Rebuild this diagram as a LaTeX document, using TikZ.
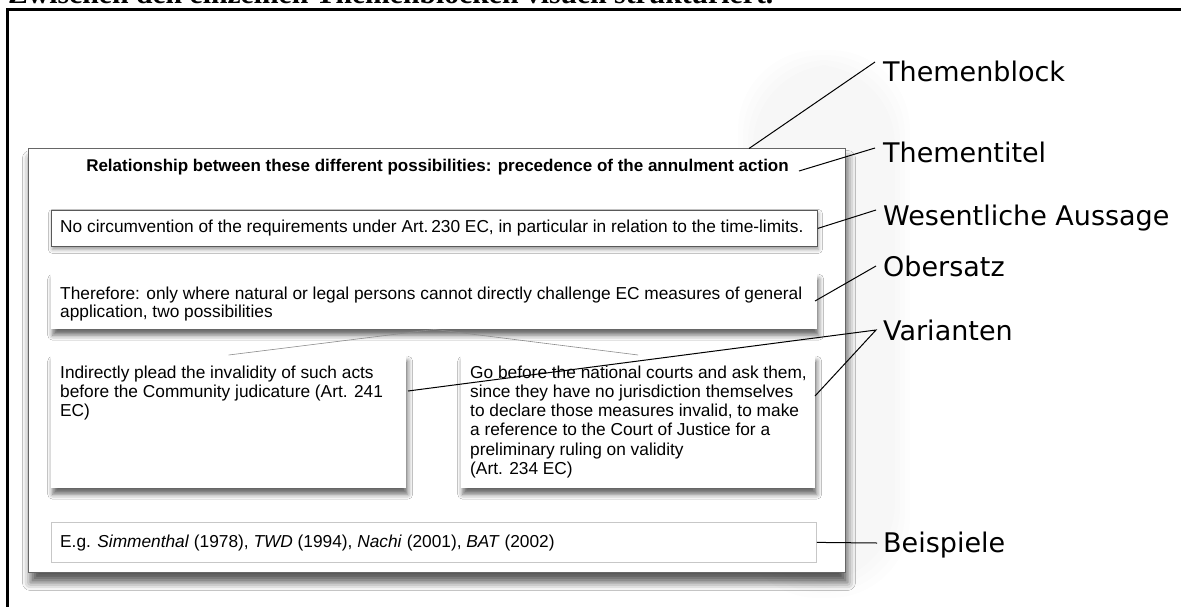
\documentclass[tikz,border=0pt]{standalone}
\usepackage{fontspec}
\setmainfont{Liberation Sans}
\newfontfamily\labelfont{DejaVu Sans}
\newfontfamily\topfont{Liberation Serif}
\usetikzlibrary{shadows.blur}
\begin{document}
\begin{tikzpicture}[x=1pt,y=-1pt,
  outerblk/.style={draw=black!60, line width=0.9pt, fill=white, anchor=north west, inner sep=0pt,
    blur shadow={shadow xshift=2pt, shadow yshift=-10pt, shadow blur radius=8pt, shadow opacity=65}},
  sbox/.style={fill=white, anchor=north west, inner sep=0pt,
    blur shadow={shadow xshift=1.5pt, shadow yshift=-6pt, shadow blur radius=5pt, shadow opacity=60}},
  txt/.style={anchor=north west, inner sep=0pt, align=left, font=\fontsize{17.3}{18}\selectfont},
  txtwide/.style={txt, font=\fontsize{17.3}{19.2}\selectfont},
  lbl/.style={anchor=base west, inner sep=0pt, font=\labelfont\fontsize{27}{30}\selectfont},
  leader/.style={draw=black, line width=1pt},
  thin/.style={draw=black!45, line width=0.6pt}
]
\useasboundingbox (0,0) rectangle (1181,606);
\fill[white] (0,0) rectangle (1181,606);
% clipped heading from the page above
\begin{scope}
\clip (0,0) rectangle (1181,606);
\node[anchor=base west, inner sep=0pt] (head) at (8,3.3)
  {\resizebox{765pt}{!}{\topfont\bfseries Zwischen den einzelnen Themenblöcken visuell strukturiert.}};
\end{scope}
% page frame
\draw[line width=3pt] (7.5,620) -- (7.5,9.5) -- (1200,9.5);
% faint background blob
\foreach \i in {0,...,3}
  \fill[black, opacity=0.006, rounded corners=80pt] (738+5*\i,50+5*\i) rectangle (910-5*\i,598-5*\i);
% Themenblock
\node[outerblk, minimum width=817pt, minimum height=424pt] (outer) at (28,148) {};
\node[anchor=center, inner sep=0pt, font=\bfseries\fontsize{17}{18}\selectfont] (title) at (437.5,167.5)
  {Relationship between these different possibilities: precedence of the annulment action};
% boxes
\node[anchor=north west, inner sep=0pt, fill=white, draw=black!65, line width=0.8pt,
  minimum width=766pt, minimum height=36pt,
  blur shadow={shadow xshift=1pt, shadow yshift=-3pt, shadow blur radius=4pt, shadow opacity=40}] (b1) at (51,210) {};
\node[txt] (t1) at (60,220) {No circumvention of the requirements under Art.\,230 EC, in particular in relation to the time-limits.};
\node[sbox, minimum width=766pt, minimum height=56pt] (b2) at (51,273) {};
\node[txt] (t2) at (60,286.5) {Therefore: only where natural or legal persons cannot directly challenge EC measures of general\\application, two possibilities};
\node[sbox, minimum width=355pt, minimum height=133pt] (b3) at (51,355) {};
\node[sbox, minimum width=354pt, minimum height=133pt] (b4) at (461,355) {};
\draw[thin] (b2.south) -- (b3.north);
\draw[thin] (b2.south) -- (b4.north);
\node[txtwide] (t3) at (60,365.5) {Indirectly plead the invalidity of such acts\\before the Community judicature (Art. 241\\EC)};
\node[txtwide] (t4) at (470,365.5) {Go before the national courts and ask them,\\since they have no jurisdiction themselves\\to declare those measures invalid, to make\\a reference to the Court of Justice for a\\preliminary ruling on validity\\(Art. 234 EC)};
\node[anchor=north west, inner sep=0pt, fill=white, draw=black!22, line width=0.8pt,
  minimum width=765pt, minimum height=40pt] (b5) at (51,522) {};
\node[anchor=west, inner sep=0pt, font=\fontsize{17.3}{18}\selectfont] (t5) at (60,543)
  {E.g. \textit{Simmenthal} (1978), \textit{TWD} (1994), \textit{Nachi} (2001), \textit{BAT} (2002)};
% labels
\node[lbl] (l1) at (883,81) {Themenblock};
\node[lbl] (l2) at (883,162) {Thementitel};
\node[lbl] (l3) at (883,225) {Wesentliche Aussage};
\node[lbl] (l4) at (883,276) {Obersatz};
\node[lbl] (l5) at (883,340) {Varianten};
\node[lbl] (l6) at (883,552) {Beispiele};
% leader end points
\coordinate (p1) at (749,148.5);
\coordinate (q1) at (875,62);
\coordinate (p2) at (799,171);
\coordinate (q2) at (875,148);
\coordinate (q3) at (876,210);
\coordinate (p4) at (815,301);
\coordinate (q4) at (876,266);
\coordinate (p5a) at (408,391);
\coordinate (p5b) at (815,396);
\coordinate (q5) at (876,330);
\coordinate (q6) at (877,543);
\draw[leader] (p1) -- (q1);
\draw[leader] (p2) -- (q2);
\draw[leader] (b1.east) -- (q3);
\draw[leader] (p4) -- (q4);
\draw[leader] (p5a) -- (q5) -- (p5b);
\draw[leader] (b5.east) -- (q6);
\end{tikzpicture}
\end{document}
